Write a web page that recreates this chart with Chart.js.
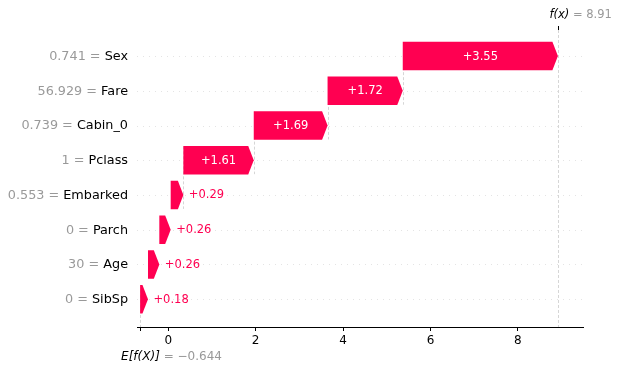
<!DOCTYPE html>
<html>
<head>
<meta charset="utf-8">
<script src="https://cdn.jsdelivr.net/npm/chart.js@4.4.0/dist/chart.umd.min.js"></script>
<style>
html,body{margin:0;padding:0;background:#fff}
#wrap{width:618px;height:372px}
</style>
</head>
<body>
<div id="wrap"><canvas id="shap"></canvas></div>
<script>
// top row first
const features = ['Sex','Fare','Cabin_0','Pclass','Embarked','Parch','Age','SibSp']
const featureValues = ['0.741','56.929','0.739','1','0.553','0','30','0']
const shapValues = [3.55,1.72,1.69,1.61,0.29,0.26,0.26,0.18]
const baseValue = -0.644
const fxValue = 8.91
const xTicks = [0,2,4,6,8]

const RED = '#ff0051'
const GREY = '#999999'
const FONT = '"DejaVu Sans", sans-serif'

// running sum from the base value, bottom row upwards
const starts = []
let acc = baseValue
for (let i = features.length - 1; i >= 0; i--) {
    starts[i] = acc
    acc += shapValues[i]
}
const bars = features.map((f,i)=>({x:[starts[i], starts[i] + shapValues[i]], y:i}))

function line(ctx,x1,y1,x2,y2){
    ctx.beginPath()
    ctx.moveTo(x1,y1)
    ctx.lineTo(x2,y2)
    ctx.stroke()
}

const waterfall = {
    id:'waterfall',
    beforeDatasetsDraw(chart){
        const {ctx, chartArea:a, scales:{x,y}} = chart
        ctx.save()
        ctx.lineWidth = 1
        // row guides
        ctx.strokeStyle = '#e4e4e4'
        ctx.setLineDash([1,5])
        features.forEach((f,i)=>{
            const py = Math.round(y.getPixelForValue(i)) + 0.5
            line(ctx, a.left, py, a.right, py)
        })
        // connectors (top four rows), base and f(x) lines
        ctx.strokeStyle = '#d6d6d6'
        ctx.setLineDash([3,2])
        for (let i = 0; i < 4; i++) {
            const px = Math.round(x.getPixelForValue(starts[i])) + 0.5
            line(ctx, px, y.getPixelForValue(i - 0.4), px, y.getPixelForValue(i + 1.4))
        }
        let px = Math.round(x.getPixelForValue(fxValue)) + 0.5
        line(ctx, px, a.top, px, a.bottom)
        px = Math.round(x.getPixelForValue(baseValue)) + 0.5
        line(ctx, px, a.bottom - (a.bottom - a.top) / features.length, px, a.bottom)
        ctx.restore()
    },
    afterDatasetsDraw(chart){
        const {ctx, scales:{x,y}} = chart
        ctx.save()
        ctx.font = '11.5px ' + FONT
        ctx.textBaseline = 'middle'
        bars.forEach((b,i)=>{
            const yc = y.getPixelForValue(b.y)
            const h = y.getPixelForValue(b.y + 0.41) - y.getPixelForValue(b.y - 0.41)
            const x0 = x.getPixelForValue(b.x[0])
            const x1 = x.getPixelForValue(b.x[1])
            const hl = Math.min(5.5, x1 - x0)
            ctx.fillStyle = RED
            ctx.beginPath()
            ctx.moveTo(x0, yc - h/2)
            ctx.lineTo(x1 - hl, yc - h/2)
            ctx.lineTo(x1, yc)
            ctx.lineTo(x1 - hl, yc + h/2)
            ctx.lineTo(x0, yc + h/2)
            ctx.closePath()
            ctx.fill()
            const txt = '+' + shapValues[i].toFixed(2)
            const w = ctx.measureText(txt).width
            if (w + 10 < x1 - x0) {
                ctx.fillStyle = '#fff'
                ctx.textAlign = 'center'
                ctx.fillText(txt, (x0 + x1) / 2, yc + 0.5)
            } else {
                ctx.fillStyle = RED
                ctx.textAlign = 'left'
                ctx.fillText(txt, x1 + 5.5, yc + 0.5)
            }
        })
        ctx.restore()
    },
    afterDraw(chart){
        const {ctx, chartArea:a, scales:{x,y}} = chart
        ctx.save()
        ctx.textBaseline = 'middle'
        // feature labels: grey value, black name
        ctx.font = '12.8px ' + FONT
        features.forEach((f,i)=>{
            const py = y.getPixelForValue(i) + 0.5
            const right = 128
            ctx.textAlign = 'right'
            ctx.fillStyle = '#000'
            ctx.fillText(f, right, py)
            const wn = ctx.measureText(f).width
            ctx.fillStyle = GREY
            ctx.fillText(featureValues[i] + ' = ', right - wn, py)
        })
        // f(x) tick and label on top
        const fpx = Math.round(x.getPixelForValue(fxValue)) + 0.5
        ctx.strokeStyle = '#000'
        ctx.lineWidth = 1
        line(ctx, fpx, a.top, fpx, a.top - 4)
        ctx.textAlign = 'left'
        ctx.font = 'italic 11.5px ' + FONT
        ctx.fillStyle = '#000'
        ctx.fillText('f(x)', fpx - 9, 15)
        let w = ctx.measureText('f(x)').width
        ctx.font = '11.5px ' + FONT
        ctx.fillStyle = GREY
        ctx.fillText(' = ' + fxValue.toFixed(2), fpx - 9 + w, 15)
        // E[f(X)] label under the axis
        const bpx = x.getPixelForValue(baseValue)
        ctx.font = 'italic 12px ' + FONT
        ctx.fillStyle = '#000'
        ctx.fillText('E[f(X)]', bpx - 19, 357)
        w = ctx.measureText('E[f(X)]').width
        ctx.font = '12px ' + FONT
        ctx.fillStyle = GREY
        ctx.fillText(' = \u2212' + Math.abs(baseValue).toFixed(3), bpx - 19 + w, 357)
        ctx.restore()
    }
}

new Chart(document.getElementById('shap').getContext('2d'),{
    type:'bar',
    data:{
        datasets:[{
            data:bars,
            backgroundColor:'rgba(0,0,0,0)',
            borderWidth:0,
            barPercentage:1,
            categoryPercentage:0.8
        }]
    },
    options:{
        indexAxis:'y',
        responsive:true,
        maintainAspectRatio:false,
        animation:false,
        layout:{padding:{left:137,right:35,top:30,bottom:0}},
        scales:{
            x:{
                type:'linear',
                min:-0.715,
                max:9.49,
                afterBuildTicks:s=>{ s.ticks = [baseValue].concat(xTicks).map(v=>({value:v})) },
                afterFit:s=>{ s.height = 45 },
                grid:{drawOnChartArea:false, drawTicks:true, tickLength:4, color:'#000'},
                border:{display:true, color:'#000', width:1},
                ticks:{
                    padding:3,
                    color:'#000',
                    font:{family:'DejaVu Sans', size:12},
                    maxRotation:0,
                    autoSkip:false,
                    callback:v=> v === baseValue ? '' : String(v)
                }
            },
            y:{
                type:'linear',
                reverse:true,
                offset:false,
                min:-0.75,
                max:7.8,
                display:false
            }
        },
        plugins:{
            legend:{display:false},
            tooltip:{enabled:false}
        }
    },
    plugins:[waterfall]
})
</script>
</body>
</html>
